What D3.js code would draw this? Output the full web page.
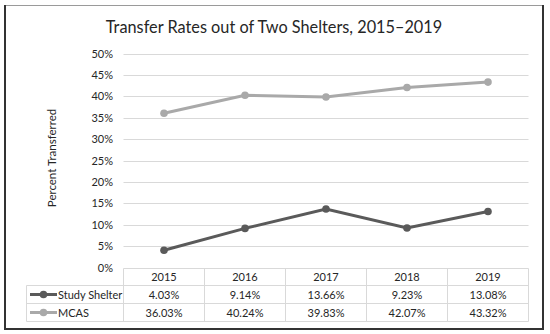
<!DOCTYPE html>
<html>
<head>
<meta charset="utf-8">
<script src="https://cdn.jsdelivr.net/npm/d3@7"></script>
<style>
  body { margin: 0; background: #fff; }
  text { font-family: Lato, "Open Sans", sans-serif; fill: #262626; }
</style>
</head>
<body>
<svg width="550" height="334"></svg>
<script>
var years = ["2015", "2016", "2017", "2018", "2019"];
var studyShelter = [4.03, 9.14, 13.66, 9.23, 13.08];
var mcas = [36.03, 40.24, 39.83, 42.07, 43.32];
var yTicks = [0, 5, 10, 15, 20, 25, 30, 35, 40, 45, 50];

var seriesList = [
    {name: "Study Shelter", values: studyShelter, color: "#5a5a5a"},
    {name: "MCAS", values: mcas, color: "#a9a9a9"}
];

var svg = d3.select("svg");

// frame
svg.append("line")
    .attr("x1", 5).attr("x2", 543).attr("y1", 5.5).attr("y2", 5.5)
    .attr("stroke", "#9a9a9a").attr("stroke-width", 1);
svg.append("path")
    .attr("d", "M5,5 V329 H543 V5")
    .attr("fill", "none").attr("stroke", "#333").attr("stroke-width", 2);

svg.append("text")
    .attr("x", 274).attr("y", 33)
    .attr("text-anchor", "middle")
    .style("font-size", "16.3px")
    .text("Transfer Rates out of Two Shelters, 2015\u20132019");

var x = d3.scaleBand().domain(years).range([123.5, 528.5]);
var y = d3.scaleLinear().domain([0, 50]).range([267.5, 53.5]);

// gridlines
svg.append("g")
    .selectAll("line")
    .data(yTicks.slice(1))
    .enter().append("line")
    .attr("x1", 123.5).attr("x2", 528.5)
    .attr("y1", function(d) { return Math.round(y(d)) + 0.5; })
    .attr("y2", function(d) { return Math.round(y(d)) + 0.5; })
    .attr("stroke", "#d9d9d9").attr("stroke-width", 1);

// y labels
svg.append("g")
    .selectAll("text")
    .data(yTicks)
    .enter().append("text")
    .attr("x", 113)
    .attr("y", function(d) { return y(d) + 4; })
    .attr("text-anchor", "end")
    .style("font-size", "11px")
    .text(function(d) { return d + "%"; });

svg.append("text")
    .attr("transform", "translate(56,158) rotate(-90)")
    .attr("text-anchor", "middle")
    .style("font-size", "11.5px")
    .text("Percent Transferred");

// lines
var line = d3.line()
    .x(function(d, i) { return x(years[i]) + x.bandwidth() / 2; })
    .y(function(d) { return y(d); });

seriesList.forEach(function(s) {
    svg.append("path")
        .attr("d", line(s.values))
        .attr("fill", "none")
        .attr("stroke", s.color)
        .attr("stroke-width", 3);
    svg.selectAll(".pt-" + s.name.replace(" ", ""))
        .data(s.values)
        .enter().append("circle")
        .attr("cx", function(d, i) { return x(years[i]) + x.bandwidth() / 2; })
        .attr("cy", function(d) { return y(d); })
        .attr("r", 3.8)
        .attr("fill", s.color);
});

// data table
var rowY = [268.5, 285.5, 303.5, 321.5];
var tableLeft = 26.5;
var grid = svg.append("g").attr("stroke", "#d9d9d9").attr("stroke-width", 1);
grid.append("line").attr("x1", 123.5).attr("x2", 528.5).attr("y1", rowY[0]).attr("y2", rowY[0]);
rowY.slice(1).forEach(function(r) {
    grid.append("line").attr("x1", tableLeft).attr("x2", 528.5).attr("y1", r).attr("y2", r);
});
years.forEach(function(yr) {
    grid.append("line").attr("x1", x(yr)).attr("x2", x(yr)).attr("y1", rowY[0]).attr("y2", rowY[3]);
});
grid.append("line").attr("x1", 528.5).attr("x2", 528.5).attr("y1", rowY[0]).attr("y2", rowY[3]);
grid.append("line").attr("x1", tableLeft).attr("x2", tableLeft).attr("y1", rowY[1]).attr("y2", rowY[3]);

svg.append("g").selectAll("text")
    .data(years)
    .enter().append("text")
    .attr("x", function(d) { return x(d) + x.bandwidth() / 2; })
    .attr("y", 281)
    .attr("text-anchor", "middle")
    .style("font-size", "11px")
    .text(function(d) { return d; });

seriesList.forEach(function(s, k) {
    var cy = (rowY[k + 1] + rowY[k + 2]) / 2;
    svg.append("line")
        .attr("x1", 30).attr("x2", 57)
        .attr("y1", cy).attr("y2", cy)
        .attr("stroke", s.color).attr("stroke-width", 3);
    svg.append("circle")
        .attr("cx", 43.5).attr("cy", cy).attr("r", 3.8).attr("fill", s.color);
    svg.append("text")
        .attr("x", 58).attr("y", cy + 4)
        .style("font-size", "11px")
        .text(s.name);
    svg.append("g").selectAll("text")
        .data(s.values)
        .enter().append("text")
        .attr("x", function(d, i) { return x(years[i]) + x.bandwidth() / 2; })
        .attr("y", cy + 4)
        .attr("text-anchor", "middle")
        .style("font-size", "11px")
        .text(function(d) { return d.toFixed(2) + "%"; });
});
</script>
</body>
</html>
